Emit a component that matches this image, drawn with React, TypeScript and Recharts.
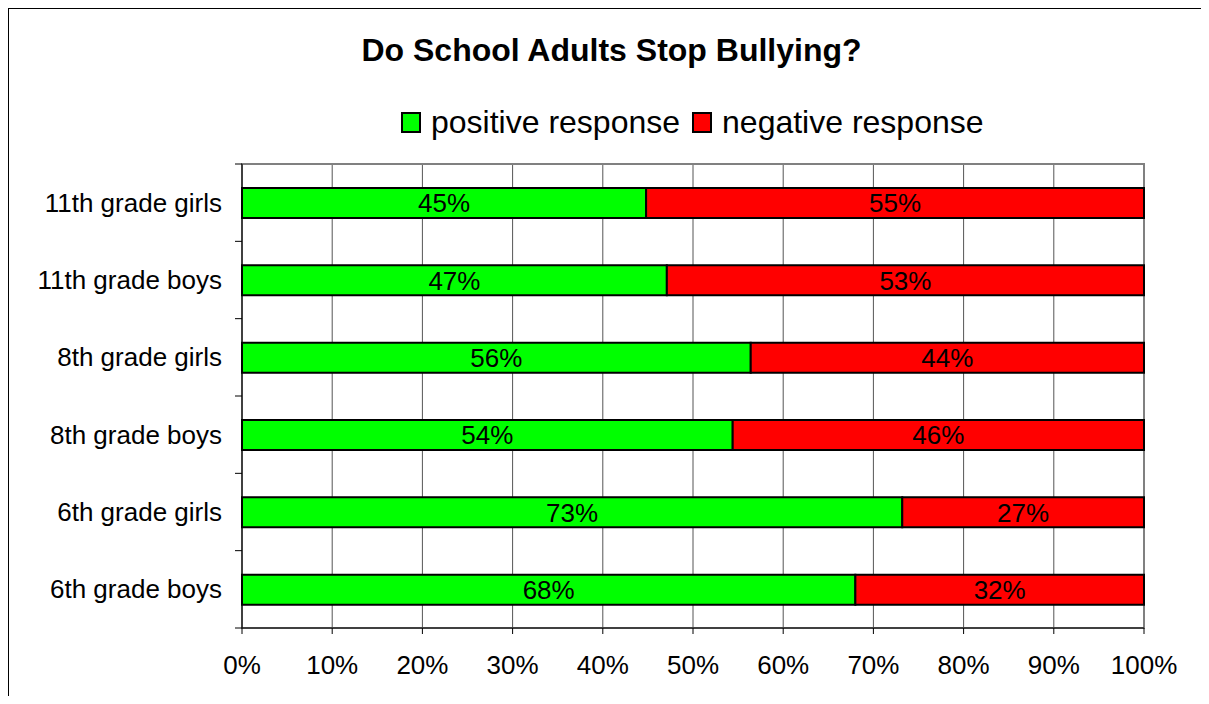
import { Bar, BarChart, CartesianGrid, LabelList, ReferenceArea, XAxis, YAxis } from 'recharts'

const grades = ['11th grade girls', '11th grade boys', '8th grade girls', '8th grade boys ', '6th grade girls', '6th grade boys']
const positive = [44.8, 47.1, 56.4, 54.4, 73.2, 68.0]
const negative = [55.2, 52.9, 43.6, 45.6, 26.8, 32.0]
const xTicks = [0, 10, 20, 30, 40, 50, 60, 70, 80, 90, 100]

const rows = grades.map((grade, i) => ({ grade, pos: positive[i], neg: negative[i] }))

const FONT = '"Liberation Sans", Arial, sans-serif'
const PLOT_TOP = 155
const PLOT_H = 464
const BAND = PLOT_H / grades.length

function GradeTick(props: any) {
  const { x, y, payload, index } = props
  const axisX = x + 20
  return (
    <g>
      <line x1={axisX - 7} x2={axisX} y1={y - BAND / 2} y2={y - BAND / 2} stroke="#000" />
      {index === grades.length - 1 && (
        <line x1={axisX - 7} x2={axisX} y1={y + BAND / 2} y2={y + BAND / 2} stroke="#000" />
      )}
      <text x={x} y={y} dy="0.35em" textAnchor="end" fontSize={26} fill="#000" fontFamily={FONT}>
        {payload.value}
      </text>
    </g>
  )
}

function LegendBox({ color, label }: { color: string; label: string }) {
  return (
    <div style={{ display: 'flex', alignItems: 'center', marginRight: 12 }}>
      <div style={{ width: 16, height: 17, background: color, border: '2px solid #000', marginRight: 10 }} />
      <span>{label}</span>
    </div>
  )
}

export default function App() {
  return (
    <div
      style={{
        position: 'relative',
        width: 1201,
        height: 688,
        borderTop: '1px solid #000',
        borderLeft: '1px solid #000',
        boxSizing: 'border-box',
        overflow: 'hidden',
        fontFamily: FONT,
      }}
    >
      <div
        style={{
          position: 'absolute',
          left: 10,
          top: 25,
          width: 1185,
          textAlign: 'center',
          fontSize: 32,
          lineHeight: '32px',
          fontWeight: 'bold',
          whiteSpace: 'nowrap',
        }}
      >
        Do School Adults Stop Bullying?
      </div>
      <div
        style={{
          position: 'absolute',
          left: 392,
          top: 97,
          display: 'flex',
          fontSize: 32,
          lineHeight: '32px',
          whiteSpace: 'nowrap',
        }}
      >
        <LegendBox color="#00ff00" label="positive response" />
        <LegendBox color="#ff0000" label="negative response" />
      </div>
      <div style={{ position: 'absolute', left: 0, top: 0 }}>
        <BarChart
          width={1190}
          height={687}
          data={rows}
          layout="vertical"
          margin={{ top: PLOT_TOP, right: 55, left: 0, bottom: 18 }}
        >
          <CartesianGrid horizontal={false} stroke="#555" />
          <ReferenceArea x1={0} x2={100} fill="none" stroke="#808080" strokeWidth={2} ifOverflow="visible" />
          <XAxis
            type="number"
            domain={[0, 100]}
            ticks={xTicks}
            tickFormatter={(v) => `${v}%`}
            height={50}
            tickSize={6}
            tickMargin={22}
            stroke="#000"
            tick={{ fontSize: 26, fill: '#000', fontFamily: FONT }}
          />
          <YAxis
            type="category"
            dataKey="grade"
            width={233}
            tickLine={false}
            tickMargin={14}
            tickSize={6}
            stroke="#000"
            tick={<GradeTick />}
          />
          <Bar dataKey="pos" stackId="a" fill="#00ff00" stroke="#000" strokeWidth={2} barSize={30} isAnimationActive={false}>
            <LabelList dataKey="pos" position="center" formatter={(v: any) => `${Math.round(v)}%`} fill="#000" fontSize={26} fontFamily={FONT} />
          </Bar>
          <Bar dataKey="neg" stackId="a" fill="#ff0000" stroke="#000" strokeWidth={2} barSize={30} isAnimationActive={false}>
            <LabelList dataKey="neg" position="center" formatter={(v: any) => `${Math.round(v)}%`} fill="#000" fontSize={26} fontFamily={FONT} />
          </Bar>
        </BarChart>
      </div>
    </div>
  )
}
